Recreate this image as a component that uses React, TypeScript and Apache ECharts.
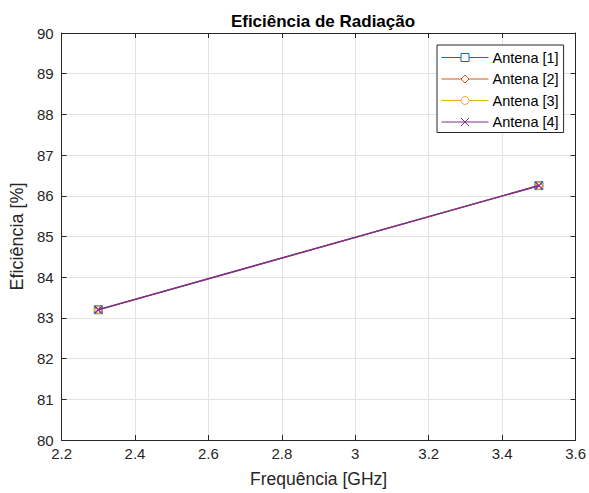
import React, { useEffect, useRef } from "react";
import * as echarts from "echarts";

const freq = [2.3, 3.5];
const antena1 = [83.2, 86.25];
const antena2 = [83.2, 86.25];
const antena3 = [83.2, 86.25];
const antena4 = [83.2, 86.25];
const seriesNames = ["Antena [1]", "Antena [2]", "Antena [3]", "Antena [4]"];
const colors = ["#0072BD", "#D95319", "#EDB120", "#7E2F8E"];
const symbols = ["rect", "diamond", "circle", "path://M0,0L10,10M10,0L0,10"];

const FONT = "Liberation Sans";

export default function App() {
  const ref = useRef<HTMLDivElement>(null);
  useEffect(() => {
    document.body.style.margin = "0";
    if (!ref.current) return;
    const chart = echarts.init(ref.current, null, { renderer: "svg" });
    const all = [antena1, antena2, antena3, antena4];
    const axisLine = { show: true, lineStyle: { color: "#262626", width: 1 } };
    const tickIn = { show: true, inside: true, length: 5, lineStyle: { color: "#262626" } };
    chart.setOption({
      animation: false,
      backgroundColor: "#fff",
      color: colors,
      textStyle: { fontFamily: FONT },
      title: {
        text: "Eficiência de Radiação",
        left: 318,
        textAlign: "center",
        top: 8,
        textStyle: { fontFamily: FONT, fontSize: 17, fontWeight: "bold", color: "#000" },
      },
      grid: { left: 58, right: 13, top: 33, bottom: 49, containLabel: false },
      legend: {
        orient: "vertical",
        left: 437,
        top: 45,
        padding: [5, 5, 3, 4],
        itemWidth: 47,
        itemHeight: 10,
        itemGap: 6.5,
        backgroundColor: "#fff",
        borderColor: "#262626",
        borderWidth: 1,
        borderRadius: 0,
        textStyle: { fontFamily: FONT, fontSize: 14.5, lineHeight: 14, color: "#000", padding: [0, 0, 0, -1] },
        data: seriesNames.map((name, i) => ({
          name,
          itemStyle: { color: "#fff", borderColor: colors[i], borderWidth: 1 },
          lineStyle: { color: colors[i], width: 1 },
        })),
      },
      xAxis: [
        {
          type: "value",
          min: 2.2,
          max: 3.6,
          interval: 0.2,
          name: "Frequência [GHz]",
          nameLocation: "middle",
          nameGap: 30,
          nameTextStyle: { fontFamily: FONT, fontSize: 17.5, color: "#262626" },
          axisLine,
          axisTick: tickIn,
          axisLabel: {
            fontFamily: FONT,
            fontSize: 15,
            color: "#262626",
            margin: 6,
            formatter: (v: number) => String(Math.round(v * 10) / 10),
          },
          splitLine: { show: true, lineStyle: { color: "#e3e3e3", width: 1 } },
        },
        {
          type: "value",
          position: "top",
          min: 2.2,
          max: 3.6,
          interval: 0.2,
          axisLine,
          axisTick: tickIn,
          axisLabel: { show: false },
          splitLine: { show: false },
        },
      ],
      yAxis: [
        {
          type: "value",
          min: 80,
          max: 90,
          interval: 1,
          name: "Eficiência [%]",
          nameLocation: "middle",
          nameGap: 35,
          nameTextStyle: { fontFamily: FONT, fontSize: 18, color: "#262626" },
          axisLine,
          axisTick: tickIn,
          axisLabel: { fontFamily: FONT, fontSize: 15, color: "#262626", margin: 8 },
          splitLine: { show: true, lineStyle: { color: "#e3e3e3", width: 1 } },
        },
        {
          type: "value",
          position: "right",
          min: 80,
          max: 90,
          interval: 1,
          axisLine,
          axisTick: tickIn,
          axisLabel: { show: false },
          splitLine: { show: false },
        },
      ],
      series: seriesNames.map((name, i) => ({
        name,
        type: "line",
        color: colors[i],
        z: 2 + i,
        data: freq.map((f, j) => [f, all[i][j]]),
        symbol: symbols[i],
        symbolSize: i === 3 ? 7 : 8,
        showAllSymbol: true,
        lineStyle: { color: colors[i], width: i === 3 ? 1.6 : 1 },
        itemStyle: { color: "rgba(255,255,255,0)", borderColor: colors[i], borderWidth: i === 3 ? 1.3 : 1 },
        emphasis: { disabled: true },
      })),
    });
    return () => chart.dispose();
  }, []);
  return <div ref={ref} style={{ width: 589, height: 493 }} />;
}
